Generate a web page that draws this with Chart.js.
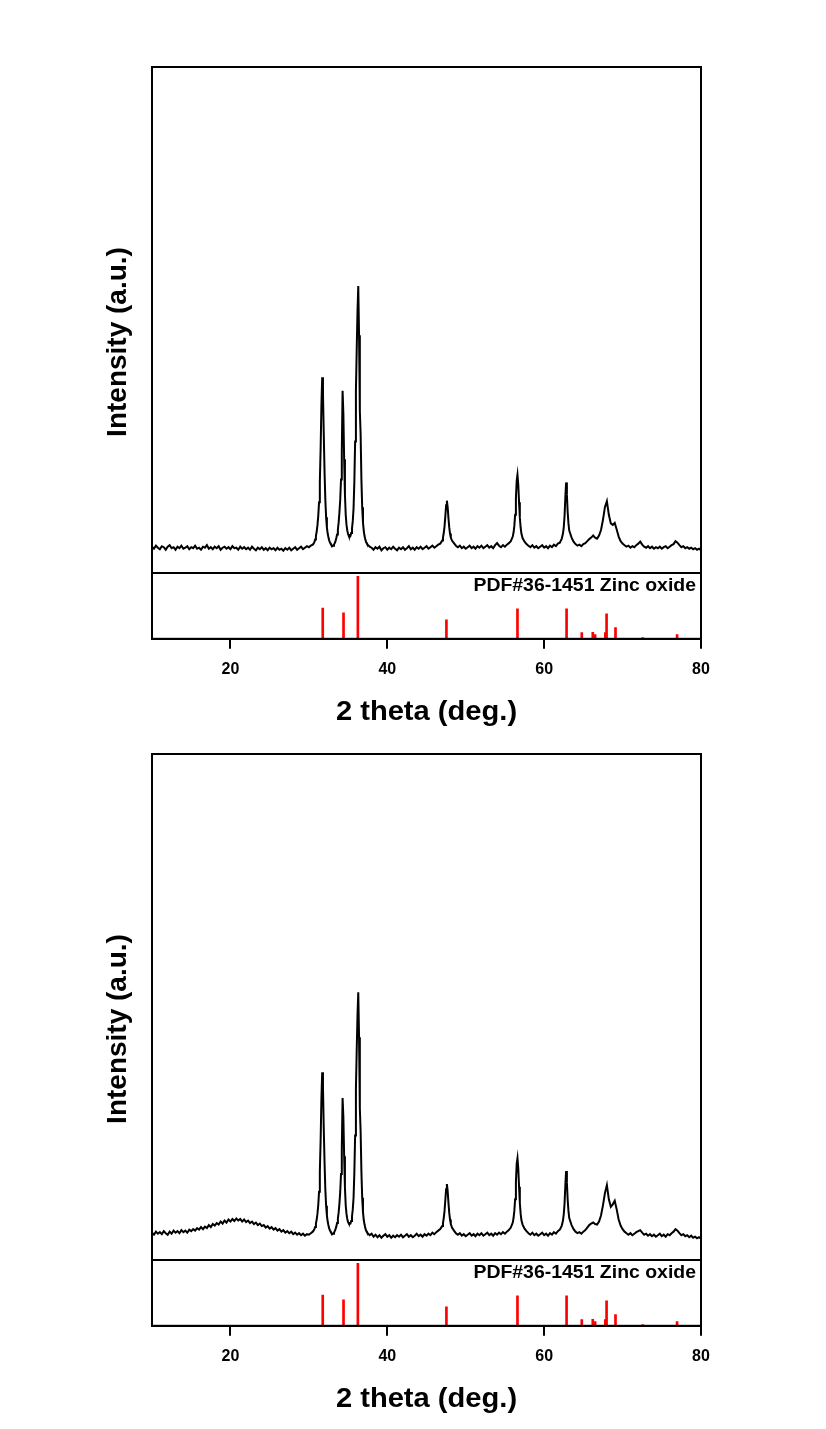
<!DOCTYPE html>
<html>
<head>
<meta charset="utf-8">
<script src="https://cdn.jsdelivr.net/npm/chart.js@4.4.1/dist/chart.umd.min.js"></script>
<style>
  body { margin: 0; background: #fff; }
  #page { position: relative; width: 826px; height: 1429px; overflow: hidden; }
  canvas { position: absolute; left: 0; }
</style>
</head>
<body>
<div id="page">
  <canvas id="main1" width="826" height="600" style="top:0px"></canvas>
  <canvas id="ref1" width="826" height="180" style="top:560px"></canvas>
  <canvas id="main2" width="826" height="600" style="top:687px"></canvas>
  <canvas id="ref2" width="826" height="180" style="top:1247px"></canvas>
</div>
<script>
// tick labels of the 2 theta axis
var xTicks = [20, 40, 60, 80];

// PDF#36-1451 reference lines (2 theta, relative height)
var refTheta  = [31.77, 34.42, 36.25, 47.54, 56.60, 62.86, 64.8, 66.2, 66.5, 67.8, 67.96, 69.10, 72.56, 76.95];
var refHeight = [46.5,  39.5,  95,    29,    45.5,  45.5,  9.5,  10,   6.5,  9.5,  38,    17,    2,     6.5];

// upper pattern [2 theta, intensity]
var scan1 = [
  [10,5.2],[10.25,4.8],[10.5,5.4],[10.75,5.0],[11,4.7],[11.25,5.3],[11.5,5.1],[11.75,4.6],[12,5.2],[12.25,5.5],
  [12.5,4.9],[12.75,5.1],[13,4.6],[13.25,5.2],[13.5,4.9],[13.75,5.4],[14,4.8],[14.25,5.0],[14.5,5.3],[14.75,4.7],
  [15,5.1],[15.25,4.9],[15.5,5.4],[15.75,4.8],[16,5.0],[16.25,4.6],[16.5,5.2],[16.75,5.0],[17,5.5],[17.25,4.8],
  [17.5,5.1],[17.75,4.7],[18,5.2],[18.25,4.9],[18.5,5.3],[18.75,4.6],[19,5.0],[19.25,5.2],[19.5,4.8],[19.75,5.1],
  [20,4.7],[20.25,5.3],[20.5,4.9],[20.75,5.0],[21,4.6],[21.25,5.2],[21.5,4.8],[21.75,5.1],[22,4.7],[22.25,5.0],
  [22.5,4.6],[22.75,5.2],[23,4.8],[23.25,4.5],[23.5,5.0],[23.75,4.7],[24,5.1],[24.25,4.6],[24.5,4.9],[24.75,4.5],
  [25,5.0],[25.25,4.7],[25.5,4.9],[25.75,4.5],[26,5.0],[26.25,4.6],[26.5,4.8],[26.75,4.4],[27,4.9],[27.25,4.6],
  [27.5,5.0],[27.75,4.5],[28,4.8],[28.25,5.1],[28.5,4.6],[28.75,4.9],[29,5.2],[29.25,4.7],[29.5,5.0],[29.75,5.3],
  [30,5.1],[30.25,5.4],[30.5,5.6],
  [30.6,5.8],[30.7,6.1],[30.8,6.6],[30.9,7.3],[31,8.2],[31.1,9.5],[31.2,11.3],[31.3,14.0],[31.4,18.0],[31.5,24.5],
  [31.6,33.0],[31.7,38.7],[31.8,35.5],[31.9,27.5],[32,20.0],[32.1,14.5],[32.2,11.0],[32.3,9.0],[32.4,7.8],[32.5,7.0],
  [32.6,6.4],[32.7,6.0],[32.8,5.7],[32.9,5.5],[33,5.3],[33.1,5.4],[33.2,5.6],[33.3,5.9],[33.4,6.3],[33.5,6.9],
  [33.6,7.6],[33.7,8.6],[33.8,10.0],[33.9,12.0],[34,14.5],[34.1,18.5],[34.2,24.0],[34.3,36.0],[34.4,31.5],[34.5,22.5],
  [34.6,15.5],[34.7,11.5],[34.8,9.5],[34.9,8.4],[35,7.7],[35.1,7.3],[35.2,7.1],[35.3,7.3],[35.4,7.9],[35.5,8.8],
  [35.6,10.3],[35.7,12.8],[35.8,18.0],[35.9,26.0],[36,36.0],[36.1,44.0],[36.2,51.5],[36.3,56.7],[36.4,47.0],[36.5,32.0],
  [36.6,27.5],[36.7,18.5],[36.8,13.0],[36.9,10.0],[37,8.3],[37.1,7.3],[37.2,6.6],[37.3,6.1],[37.4,5.8],
  [37.5,5.6],[37.75,5.2],[38,5.0],[38.25,4.6],[38.5,5.1],[38.75,4.8],[39,5.2],[39.25,4.5],[39.5,4.9],[39.75,5.1],
  [40,4.6],[40.25,5.0],[40.5,4.7],[40.75,5.2],[41,4.8],[41.25,4.5],[41.5,5.0],[41.75,4.7],[42,5.1],[42.25,4.6],
  [42.5,4.9],[42.75,5.3],[43,4.7],[43.25,5.0],[43.5,4.6],[43.75,5.1],[44,4.8],[44.25,5.2],[44.5,4.7],[44.75,5.0],
  [45,5.3],[45.25,4.8],[45.5,5.1],[45.75,5.4],[46,5.0],[46.25,5.3],[46.5,5.6],[46.75,5.8],[47,6.4],
  [47.1,7.0],[47.2,7.9],[47.3,9.2],[47.4,11.2],[47.5,13.4],[47.6,14.3],[47.7,13.0],[47.8,10.8],[47.9,9.0],[48,7.8],[48.1,7.0],
  [48.25,6.4],[48.5,5.9],[48.75,5.4],[49,5.1],[49.25,5.4],[49.5,4.9],[49.75,5.2],[50,4.8],[50.25,5.1],[50.5,5.4],
  [50.75,4.9],[51,5.2],[51.25,4.8],[51.5,5.3],[51.75,5.0],[52,5.4],[52.25,4.9],[52.5,5.2],[52.75,5.5],[53,5.0],
  [53.25,5.3],[53.5,4.9],[53.75,5.5],[54,5.9],[54.25,5.4],[54.5,5.1],[54.75,5.5],[55,5.2],[55.25,5.6],[55.5,5.9],
  [55.75,6.3],[56,7.2],
  [56.1,8.0],[56.2,9.3],[56.3,11.5],[56.4,14.8],[56.5,18.2],[56.6,19.4],[56.7,17.5],[56.8,14.0],[56.9,11.0],[57,9.0],[57.1,7.8],
  [57.25,6.9],[57.5,6.2],[57.75,5.7],[58,5.4],[58.25,5.1],[58.5,5.5],[58.75,5.0],[59,5.3],[59.25,4.9],[59.5,5.2],
  [59.75,5.5],[60,5.0],[60.25,5.3],[60.5,4.9],[60.75,5.4],[61,5.1],[61.25,5.6],[61.5,5.3],[61.75,5.8],[62,6.0],[62.25,6.8],
  [62.4,7.8],[62.5,9.0],[62.6,11.2],[62.7,14.8],[62.8,17.9],[62.9,15.5],[63,12.0],[63.1,9.8],[63.2,8.4],
  [63.5,7.0],[63.75,6.2],[64,5.7],[64.25,5.4],[64.5,5.6],[64.75,5.3],[65,5.7],[65.25,5.9],[65.5,6.3],[65.75,6.7],
  [66,7.0],[66.25,7.4],[66.5,7.0],[66.75,6.8],[67,7.4],[67.25,8.5],[67.5,10.5],[67.75,13.0],[68,14.2],[68.25,11.5],
  [68.5,9.8],[68.75,9.5],[69,9.9],[69.25,8.6],[69.5,7.2],[69.75,6.3],[70,5.8],[70.25,5.5],[70.5,5.2],[70.75,5.4],
  [71,5.0],[71.25,5.3],[71.5,5.1],[71.75,5.5],[72,5.8],[72.25,6.2],[72.5,5.6],[72.75,5.2],[73,5.0],[73.25,5.3],
  [73.5,4.9],[73.75,5.2],[74,4.8],[74.25,5.1],[74.5,4.9],[74.75,5.2],[75,4.8],[75.25,5.1],[75.5,5.3],[75.75,4.9],
  [76,5.2],[76.25,5.5],[76.5,5.7],[76.75,6.3],[77,6.0],[77.25,5.5],[77.5,5.1],[77.75,5.3],[78,4.9],[78.25,5.1],
  [78.5,4.8],[78.75,5.0],[79,4.7],[79.25,4.9],[79.5,4.6],[79.75,4.8],[80,4.5]
];

// lower pattern [2 theta, intensity], with the broad hump near 20 deg
var scan2 = [
  [10,5.4],[10.25,5.0],[10.5,5.6],[10.75,5.2],[11,5.5],[11.25,5.1],[11.5,5.7],[11.75,5.3],[12,5.0],[12.25,5.6],
  [12.5,5.2],[12.75,5.8],[13,5.4],[13.25,5.7],[13.5,5.3],[13.75,5.9],[14,5.5],[14.25,5.8],[14.5,5.4],[14.75,6.0],
  [15,5.7],[15.25,6.1],[15.5,5.8],[15.75,6.3],[16,6.0],[16.25,6.5],[16.5,6.1],[16.75,6.6],[17,6.3],[17.25,6.9],
  [17.5,6.5],[17.75,7.1],[18,6.8],[18.25,7.3],[18.5,7.0],[18.75,7.6],[19,7.2],[19.25,7.8],[19.5,7.4],[19.75,8.0],
  [20,7.6],[20.25,8.1],[20.5,7.7],[20.75,8.2],[21,7.8],[21.25,8.1],[21.5,7.6],[21.75,8.0],[22,7.5],[22.25,7.8],
  [22.5,7.3],[22.75,7.6],[23,7.1],[23.25,7.4],[23.5,6.9],[23.75,7.2],[24,6.7],[24.25,6.9],[24.5,6.4],[24.75,6.7],
  [25,6.2],[25.25,6.5],[25.5,6.0],[25.75,6.3],[26,5.8],[26.25,6.1],[26.5,5.6],[26.75,5.9],[27,5.4],[27.25,5.7],
  [27.5,5.3],[27.75,5.6],[28,5.1],[28.25,5.4],[28.5,5.0],[28.75,5.3],[29,4.9],[29.25,5.2],[29.5,4.8],[29.75,5.1],
  [30,5.0],[30.25,5.3],[30.5,5.6],
  [30.6,5.8],[30.7,6.1],[30.8,6.5],[30.9,7.2],[31,8.0],[31.1,9.2],[31.2,10.9],[31.3,13.5],[31.4,17.4],[31.5,23.6],
  [31.6,31.7],[31.7,37.1],[31.8,34.0],[31.9,26.0],[32,19.3],[32.1,14.0],[32.2,10.7],[32.3,8.8],[32.4,7.6],[32.5,6.8],
  [32.6,6.2],[32.7,5.8],[32.8,5.5],[32.9,5.3],[33,5.1],[33.1,5.2],[33.2,5.4],[33.3,5.7],[33.4,6.1],[33.5,6.6],
  [33.6,7.3],[33.7,8.2],[33.8,9.4],[33.9,11.2],[34,13.5],[34.1,17.0],[34.2,22.0],[34.3,32.0],[34.4,28.3],[34.5,20.5],
  [34.6,14.3],[34.7,10.8],[34.8,9.1],[34.9,8.1],[35,7.5],[35.1,7.2],[35.2,7.1],[35.3,7.2],[35.4,7.7],[35.5,8.6],
  [35.6,10.0],[35.7,12.3],[35.8,17.2],[35.9,24.6],[36,33.9],[36.1,41.3],[36.2,48.2],[36.3,52.9],[36.4,44.0],[36.5,30.0],
  [36.6,25.5],[36.7,17.5],[36.8,12.3],[36.9,9.5],[37,7.9],[37.1,7.0],[37.2,6.3],[37.3,5.8],[37.4,5.5],
  [37.5,5.3],[37.75,4.9],[38,5.2],[38.25,4.6],[38.5,5.0],[38.75,4.5],[39,4.9],[39.25,4.4],[39.5,4.8],[39.75,5.1],
  [40,4.6],[40.25,4.9],[40.5,4.4],[40.75,4.8],[41,4.5],[41.25,4.9],[41.5,4.6],[41.75,5.0],[42,4.5],[42.25,4.8],
  [42.5,5.1],[42.75,4.6],[43,4.9],[43.25,4.5],[43.5,4.8],[43.75,5.2],[44,4.7],[44.25,5.0],[44.5,4.6],[44.75,5.1],
  [45,4.8],[45.25,5.2],[45.5,4.9],[45.75,5.4],[46,5.1],[46.25,5.5],[46.5,5.8],[46.75,6.1],[47,6.7],
  [47.1,7.3],[47.2,8.3],[47.3,9.7],[47.4,11.8],[47.5,14.0],[47.6,15.0],[47.7,13.6],[47.8,11.3],[47.9,9.3],[48,8.0],[48.1,7.1],
  [48.25,6.4],[48.5,5.8],[48.75,5.3],[49,5.0],[49.25,5.3],[49.5,4.8],[49.75,5.1],[50,4.7],[50.25,5.0],[50.5,5.3],
  [50.75,4.8],[51,5.1],[51.25,4.7],[51.5,5.2],[51.75,4.9],[52,5.3],[52.25,4.8],[52.5,5.1],[52.75,5.4],[53,4.9],
  [53.25,5.2],[53.5,4.8],[53.75,5.3],[54,5.0],[54.25,5.4],[54.5,5.1],[54.75,5.5],[55,5.2],[55.25,5.6],[55.5,5.9],
  [55.75,6.4],[56,7.4],
  [56.1,8.3],[56.2,9.7],[56.3,12.0],[56.4,15.4],[56.5,19.0],[56.6,20.1],[56.7,18.1],[56.8,14.5],[56.9,11.3],[57,9.2],[57.1,7.9],
  [57.25,7.0],[57.5,6.2],[57.75,5.7],[58,5.3],[58.25,5.0],[58.5,5.4],[58.75,4.9],[59,5.2],[59.25,4.8],[59.5,5.1],
  [59.75,5.4],[60,4.9],[60.25,5.2],[60.5,4.8],[60.75,5.3],[61,5.0],[61.25,5.5],[61.5,5.2],[61.75,5.7],[62,6.0],[62.25,6.8],
  [62.4,7.8],[62.5,9.0],[62.6,11.1],[62.7,14.6],[62.8,17.6],[62.9,15.3],[63,11.9],[63.1,9.7],[63.2,8.3],
  [63.5,6.9],[63.75,6.1],[64,5.6],[64.25,5.3],[64.5,5.5],[64.75,5.2],[65,5.6],[65.25,5.9],[65.5,6.4],[65.75,6.9],
  [66,7.2],[66.25,7.4],[66.5,7.1],[66.75,7.0],[67,7.6],[67.25,8.8],[67.5,10.8],[67.75,13.2],[68,14.8],[68.25,12.0],
  [68.5,10.5],[68.75,11.0],[69,11.7],[69.25,10.0],[69.5,8.0],[69.75,6.8],[70,6.1],[70.25,5.6],[70.5,5.3],[70.75,5.0],
  [71,5.3],[71.25,4.9],[71.5,5.2],[71.75,5.5],[72,5.7],[72.25,5.9],[72.5,5.4],[72.75,5.0],[73,5.2],[73.25,4.8],
  [73.5,5.1],[73.75,4.7],[74,5.0],[74.25,4.6],[74.5,4.9],[74.75,5.2],[75,4.7],[75.25,5.0],[75.5,4.6],[75.75,5.1],
  [76,4.9],[76.25,5.3],[76.5,5.6],[76.75,6.1],[77,5.8],[77.25,5.3],[77.5,4.9],[77.75,5.1],[78,4.7],[78.25,4.9],
  [78.5,4.5],[78.75,4.8],[79,4.4],[79.25,4.6],[79.5,4.3],[79.75,4.5],[80,4.2]
];

var FONT = '"Liberation Sans", Arial, sans-serif';
Chart.defaults.font.family = FONT;
Chart.defaults.color = '#000';

// box round each plot area
var frame = {
  id: 'frame',
  afterDraw: function(chart) {
    var a = chart.chartArea, ctx = chart.ctx;
    ctx.save();
    ctx.strokeStyle = '#000';
    ctx.lineWidth = 2;
    ctx.strokeRect(a.left, a.top, a.right - a.left, a.bottom - a.top);
    ctx.restore();
  }
};

var yTitle = {
  id: 'yTitle',
  afterDraw: function(chart) {
    var a = chart.chartArea, ctx = chart.ctx;
    ctx.save();
    ctx.translate(a.left - 34, a.top + 275);
    ctx.rotate(-Math.PI / 2);
    ctx.font = 'bold 28px ' + FONT;
    ctx.fillStyle = '#000';
    ctx.textAlign = 'center';
    ctx.textBaseline = 'middle';
    ctx.fillText('Intensity (a.u.)', 0, 0);
    ctx.restore();
  }
};

// PDF label inside the stick panel, and the 2 theta title under the ticks
var refText = {
  id: 'refText',
  afterDraw: function(chart) {
    var a = chart.chartArea, ctx = chart.ctx;
    ctx.save();
    ctx.fillStyle = '#000';
    ctx.translate(a.right - 5, a.top + 18);
    ctx.scale(1.08, 1);
    ctx.font = 'bold 18px ' + FONT;
    ctx.textAlign = 'right';
    ctx.textBaseline = 'alphabetic';
    ctx.fillText('PDF#36-1451 Zinc oxide', 0, 0);
    ctx.restore();

    ctx.save();
    ctx.fillStyle = '#000';
    ctx.translate((a.left + a.right) / 2, a.bottom + 73);
    ctx.scale(1.04, 1);
    ctx.font = 'bold 28px ' + FONT;
    ctx.textAlign = 'center';
    ctx.textBaseline = 'middle';
    ctx.fillText('2 theta (deg.)', 0, 0);
    ctx.restore();
  }
};

function mainChart(id, scan) {
  return new Chart(document.getElementById(id), {
    type: 'line',
    data: {
      datasets: [{
        data: scan.map(function(p) { return {x: p[0], y: p[1]}; }),
        borderColor: '#000',
        borderWidth: 2,
        pointRadius: 0,
        tension: 0,
        fill: false
      }]
    },
    options: {
      responsive: false,
      animation: false,
      devicePixelRatio: 1,
      layout: {padding: {left: 152, right: 125, top: 67, bottom: 27}},
      plugins: {legend: {display: false}, tooltip: {enabled: false}},
      scales: {
        x: {type: 'linear', min: 10, max: 80, display: false},
        y: {min: 0, max: 100, display: false}
      }
    },
    plugins: [frame, yTitle]
  });
}

function refChart(id) {
  return new Chart(document.getElementById(id), {
    type: 'bar',
    data: {
      datasets: [{
        data: refTheta.map(function(t, i) { return {x: t, y: refHeight[i]}; }),
        backgroundColor: '#ff0000',
        borderWidth: 0,
        barThickness: 2
      }]
    },
    options: {
      responsive: false,
      animation: false,
      devicePixelRatio: 1,
      layout: {padding: {left: 152, right: 125, top: 13, bottom: 50}},
      plugins: {legend: {display: false}, tooltip: {enabled: false}},
      scales: {
        x: {
          type: 'linear', min: 10, max: 80, offset: false,
          afterBuildTicks: function(s) { s.ticks = xTicks.map(function(v) { return {value: v}; }); },
          grid: {display: true, offset: false, drawOnChartArea: false, drawTicks: true, tickLength: 10, color: '#000', lineWidth: 2},
          border: {display: true, color: '#000', width: 2},
          ticks: {font: {size: 16, weight: 'bold'}, color: '#000', padding: 11, maxRotation: 0},
          title: {display: false}
        },
        y: {min: 0, max: 100, display: false}
      }
    },
    plugins: [frame, refText]
  });
}

mainChart('main1', scan1);
refChart('ref1');
mainChart('main2', scan2);
refChart('ref2');
</script>
</body>
</html>
